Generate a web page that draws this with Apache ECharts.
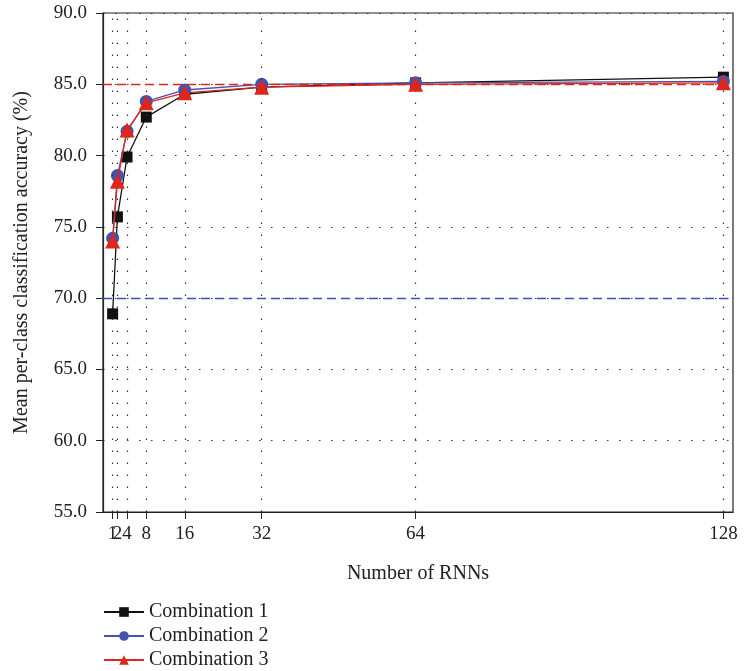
<!DOCTYPE html>
<html>
<head>
<meta charset="utf-8">
<script src="https://cdn.jsdelivr.net/npm/echarts@6/dist/echarts.min.js"></script>
<style>
  html, body { margin: 0; padding: 0; background: #fff; }
  #main { width: 744px; height: 671px; }
</style>
</head>
<body>
<div id="main"></div>
<script>
// number of RNNs and accuracy per combination
var rnns = [1, 2, 4, 8, 16, 32, 64, 128];
var comb1 = [68.9, 75.7, 79.9, 82.7, 84.3, 84.8, 85.1, 85.5];
var comb2 = [74.2, 78.6, 81.7, 83.8, 84.6, 85.0, 85.1, 85.2];
var comb3 = [74.0, 78.2, 81.8, 83.7, 84.4, 84.8, 85.0, 85.1];
var refLines = [85, 70];

var serif = 'Liberation Serif';

function pairs(vals) {
  return rnns.map(function (x, i) { return [x, vals[i]]; });
}

// labels 1 and 2 sit on top of each other, so "2" goes on an overlay axis
var mainLabels = rnns.filter(function (x) { return x !== 2; });
var extraLabels = [2];

var xLabelStyle = { fontFamily: serif, fontSize: 19, color: '#222', margin: 13 };

var myChart = echarts.init(document.getElementById('main'));
myChart.setOption({
  animation: false,
  textStyle: { fontFamily: serif },
  grid: {
    left: 103, right: 11, top: 13, bottom: 159,
    show: true, borderColor: '#222', borderWidth: 1.2
  },
  legend: {
    data: ['Combination 1', 'Combination 2', 'Combination 3'],
    orient: 'vertical',
    left: 98, top: 597,
    height: 80,
    itemWidth: 40, itemHeight: 12, itemGap: 4,
    textStyle: { fontFamily: serif, fontSize: 20, lineHeight: 20, color: '#222' }
  },
  xAxis: [
    {
      type: 'value',
      min: -1, max: 130,
      name: 'Number of RNNs',
      nameLocation: 'middle',
      nameGap: 52,
      nameTextStyle: { fontFamily: serif, fontSize: 20, color: '#222' },
      axisLine: { onZero: false, lineStyle: { color: '#222', width: 1.2 } },
      axisTick: { customValues: rnns, length: 7, lineStyle: { color: '#222' } },
      axisLabel: Object.assign({ customValues: mainLabels }, xLabelStyle),
      splitLine: { show: false }
    },
    {
      type: 'value',
      min: -1, max: 130,
      position: 'bottom',
      offset: 0,
      axisLine: { show: false, onZero: false },
      axisTick: { show: false },
      axisLabel: Object.assign({ customValues: extraLabels }, xLabelStyle),
      splitLine: { show: false }
    }
  ],
  yAxis: {
    type: 'value',
    min: 55, max: 90, interval: 5,
    name: 'Mean per-class classification accuracy (%)',
    nameLocation: 'middle',
    nameGap: 71,
    nameTextStyle: { fontFamily: serif, fontSize: 20, color: '#222' },
    axisLine: { show: true, onZero: false, lineStyle: { color: '#222', width: 1.2 } },
    axisTick: { length: 7, lineStyle: { color: '#222' } },
    axisLabel: {
      fontFamily: serif, fontSize: 19, color: '#222', margin: 16,
      formatter: function (v) { return v.toFixed(1); }
    },
    splitLine: { lineStyle: { color: '#333', type: [1.5, 10.5], width: 1.2 } }
  },
  series: [
    {
      name: 'grid',
      type: 'line',
      data: [],
      z: 1,
      markLine: {
        silent: true,
        symbol: 'none',
        label: { show: false },
        lineStyle: { color: '#333', type: [1.5, 10.5], width: 1.2 },
        data: rnns.map(function (x) { return { xAxis: x }; })
      }
    },
    {
      name: 'refs',
      type: 'line',
      data: [],
      z: 2,
      markLine: {
        silent: true,
        symbol: 'none',
        label: { show: false },
        data: [
          { yAxis: refLines[0], lineStyle: { color: '#e0251b', type: [9, 5], width: 1.3 } },
          { yAxis: refLines[1], lineStyle: { color: '#3f4fb0', type: [9, 5], width: 1.3 } }
        ]
      }
    },
    {
      name: 'Combination 1',
      type: 'line',
      data: pairs(comb1),
      z: 3,
      symbol: 'rect',
      symbolSize: 11,
      color: '#111',
      lineStyle: { color: '#111', width: 1.3 },
      itemStyle: { color: '#111' }
    },
    {
      name: 'Combination 2',
      type: 'line',
      data: pairs(comb2),
      z: 4,
      symbol: 'circle',
      symbolSize: 13,
      color: '#4452b0',
      lineStyle: { color: '#4452b0', width: 1.3 },
      itemStyle: { color: '#4452b0' }
    },
    {
      name: 'Combination 3',
      type: 'line',
      data: pairs(comb3),
      z: 5,
      symbol: 'triangle',
      symbolSize: 15,
      color: '#e0251b',
      lineStyle: { color: '#e0251b', width: 1.3 },
      itemStyle: { color: '#e0251b' }
    }
  ]
});
</script>
</body>
</html>
